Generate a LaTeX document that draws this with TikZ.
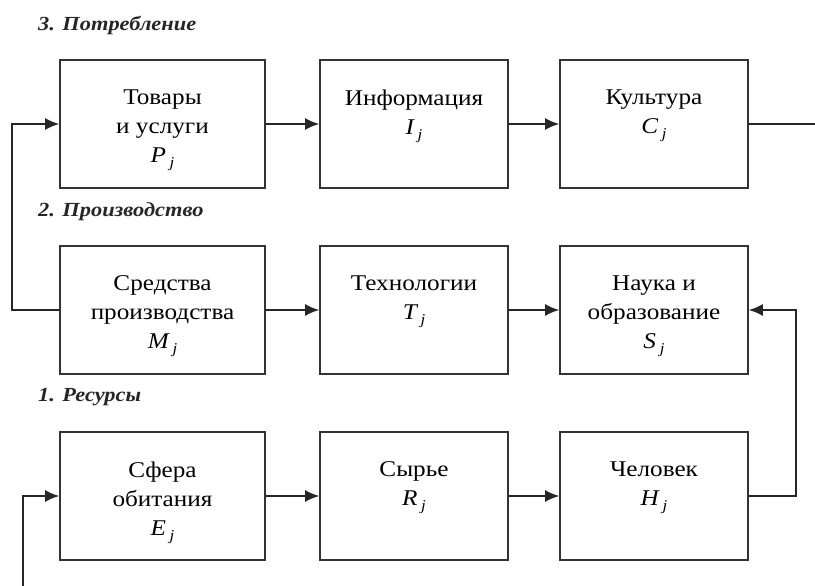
\documentclass[tikz,border=0pt]{standalone}
\usepackage{fontspec}
\setmainfont{Liberation Serif}[FakeStretch=1.12]
\usetikzlibrary{arrows.meta}
\newcommand{\myidx}[2]{{\itshape #1\,\raisebox{-5pt}{\fontsize{15}{15}\selectfont #2}}}
\tikzset{
  box/.style={draw=black!80, line width=1.6pt, fill=white, minimum width=205pt, minimum height=128pt, inner sep=0pt},
  boxb/.style={box, minimum width=188pt},
  txt/.style={anchor=north, align=center, inner sep=0pt, font=\fontsize{22.5}{29}\selectfont},
  lvl/.style={anchor=west, inner sep=0pt, font=\fontsize{20}{22}\selectfont\bfseries\itshape, text=black!85},
  conn/.style={draw=black!85, line width=1.8pt},
  arr/.style={conn, -{Latex[length=14pt,width=12pt]}}
}
\begin{document}
\begin{tikzpicture}[x=1pt,y=-1pt]
\useasboundingbox (0,0) rectangle (815,586);
% level labels
\node[lvl] (l3) at (38,25) {3. Потребление};
\node[lvl] (l2) at (38,212) {2. Производство};
\node[lvl] (l1) at (38,397) {1. Ресурсы};
% row 3 (top)
\node[box]  (P) at (162.5,124) {};
\node[boxb] (I) at (414,124) {};
\node[boxb] (C) at (654,124) {};
% row 2
\node[box]  (M) at (162.5,310) {};
\node[boxb] (T) at (414,310) {};
\node[boxb] (S) at (654,310) {};
% row 1
\node[box]  (E) at (162.5,496) {};
\node[boxb] (R) at (414,496) {};
\node[boxb] (H) at (654,496) {};
% texts
\node[txt] (Pt) at ([yshift=-30pt]P.north) {Товары\\и услуги\\\myidx{P}{j}};
\node[txt] (It) at ([yshift=-30pt]I.north) {Информация\\\myidx{I}{j}};
\node[txt] (Ct) at ([yshift=-30pt]C.north) {Культура\\\myidx{C}{j}};
\node[txt] (Mt) at ([yshift=-30pt]M.north) {Средства\\производства\\\myidx{M}{j}};
\node[txt] (Tt) at ([yshift=-30pt]T.north) {Технологии\\\myidx{T}{j}};
\node[txt] (St) at ([yshift=-30pt]S.north) {Наука и\\образование\\\myidx{S}{j}};
\node[txt] (Et) at ([yshift=-30pt]E.north) {Сфера\\обитания\\\myidx{E}{j}};
\node[txt] (Rt) at ([yshift=-30pt]R.north) {Сырье\\\myidx{R}{j}};
\node[txt] (Ht) at ([yshift=-30pt]H.north) {Человек\\\myidx{H}{j}};
% coordinates
\coordinate (cout) at (815,124);
\coordinate (ein) at (23,586);
\coordinate (lx) at (12,0);
\coordinate (rx) at (796,0);
% connectors
\draw[arr] (P.east) -- (I.west);
\draw[arr] (I.east) -- (C.west);
\draw[conn] (C.east) -- (cout);
\draw[arr] (M.east) -- (T.west);
\draw[arr] (T.east) -- (S.west);
\draw[arr] (E.east) -- (R.west);
\draw[arr] (R.east) -- (H.west);
\draw[arr] (M.west) -- (M.west -| lx) -- (P.west -| lx) -- (P.west);
\draw[arr] (H.east) -- (H.east -| rx) -- (S.east -| rx) -- (S.east);
\draw[arr] (ein) -- (ein |- E.west) -- (E.west);
\end{tikzpicture}
\end{document}
